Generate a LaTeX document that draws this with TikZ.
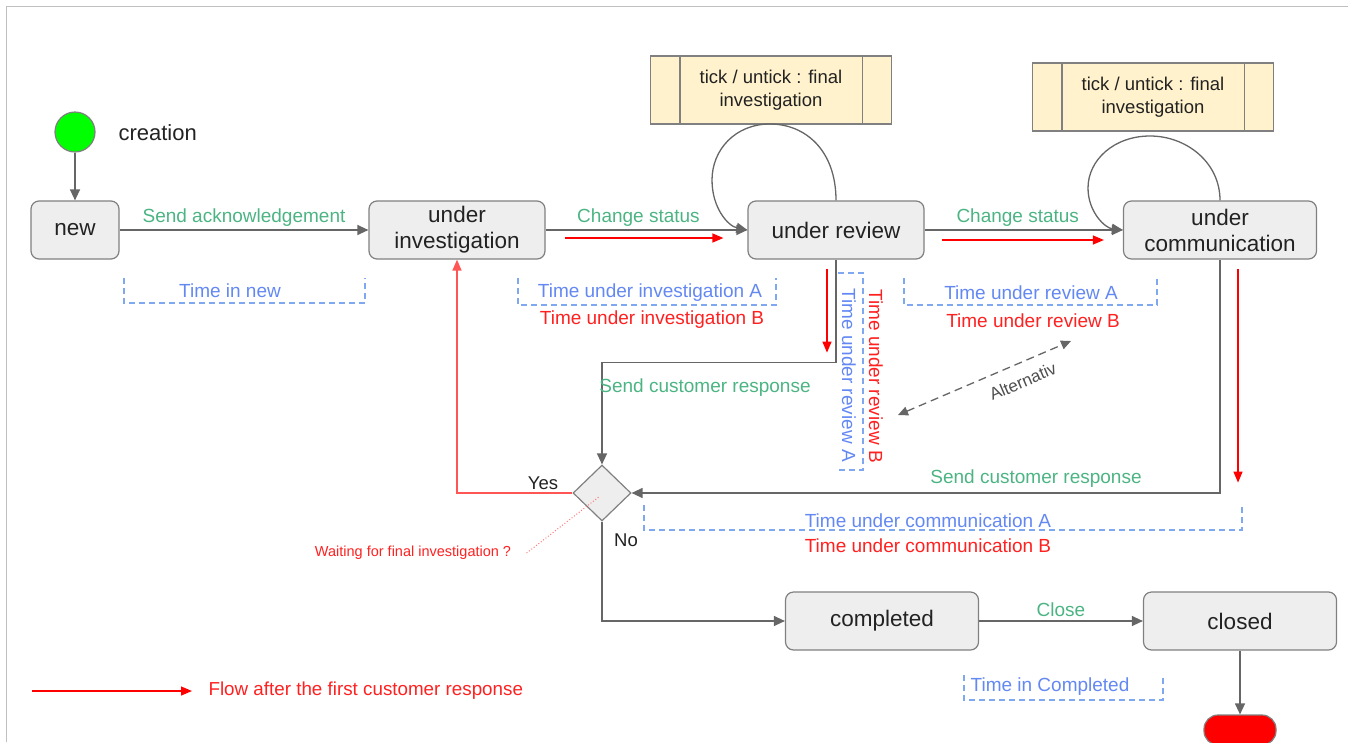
\documentclass[tikz,border=0pt]{standalone}
\usepackage{fontspec}
\setmainfont{Liberation Sans}
\usetikzlibrary{positioning}
\usetikzlibrary{arrows.meta}
\usetikzlibrary{calc, shapes}
\definecolor{boxline}{HTML}{808080}
\definecolor{boxfill}{HTML}{EEEEEE}
\definecolor{tickfill}{HTML}{FFF2CC}
\definecolor{linegray}{HTML}{666666}
\definecolor{framegray}{HTML}{C0C0C0}
\definecolor{textdark}{HTML}{222222}
\definecolor{actgreen}{HTML}{4CB483}
\definecolor{timeblue}{HTML}{6388F2}
\definecolor{dashblue}{HTML}{80A8F0}
\definecolor{timered}{HTML}{FF2020}
\definecolor{yesred}{HTML}{FF5555}
\definecolor{startgreen}{HTML}{00FF00}
\tikzset{%
	% Specifications for style of nodes:
	base/.style = {rectangle, rounded corners=8pt, draw=boxline, fill=boxfill,
		line width=1.2pt, text=textdark, align=center,
		font=\fontsize{22.5}{26}\selectfont},
	statebox/.style = {base, minimum width=176pt, minimum height=58pt, inner sep=2pt},
	tickbox/.style = {rectangle, draw=boxline, fill=tickfill, line width=1.2pt,
		minimum width=241pt, minimum height=68pt, align=center, text=textdark,
		font=\fontsize{18.5}{23}\selectfont},
	decision/.style = {diamond, draw=boxline, fill=boxfill, line width=1.2pt,
		minimum width=58pt, minimum height=56pt, inner sep=0pt},
	% Specifications for style of connectors:
	flow/.style = {draw=linegray, line width=1.3pt, -{Triangle[width=10pt,length=11pt]}},
	redflow/.style = {draw=red, line width=1.3pt, -{Triangle[width=9pt,length=11pt]}},
	yesflow/.style = {draw=yesred, line width=1.5pt, -{Triangle[width=9pt,length=11pt]}},
	altflow/.style = {draw=linegray, line width=1.3pt, dash pattern=on 8pt off 5pt,
		{Triangle[width=9pt,length=10pt]}-{Triangle[width=9pt,length=10pt]}},
	action/.style = {text=actgreen, font=\fontsize{19}{22}\selectfont},
	timeA/.style = {text=timeblue, font=\fontsize{19}{22}\selectfont},
	timeB/.style = {text=timered, font=\fontsize{19}{22}\selectfont},
	timebox/.style = {draw=dashblue, line width=1.2pt, dash pattern=on 6pt off 4pt}
}
\begin{document}
\begin{tikzpicture}[x=1pt, y=-1pt, every node/.style={font=\fontsize{18.5}{22}\selectfont}]
		\useasboundingbox (0,0) rectangle (1348,742);
		\draw[framegray, line width=1pt] (6,742) -- (6,6) -- (1348,6);
		% states
		\node (start) [circle, draw=boxline, fill=startgreen, line width=1.2pt, minimum size=40pt, inner sep=0pt] at (75,132) {};
		\node (creation) [anchor=west, text=textdark, font=\fontsize{22}{24}\selectfont] at (115,133) {creation};
		\node (new) [statebox, minimum width=88pt] at (75,230) {new};
		\node (uinv) [statebox] at (457,230) {under\\investigation};
		\node (urev) [statebox] at (836,230) {under review};
		\node (ucom) [statebox, minimum width=193pt] at (1220,230) {under\\communication};
		\node (dec) [decision] at (602,493) {};
		\node (compl) [statebox, minimum width=193pt] at (882,621) {completed};
		\node (closed) [statebox, minimum width=193pt] at (1240,621) {closed};
		\node (stop) [rectangle, rounded corners=14pt, draw=boxline, fill=red, line width=1.2pt, minimum width=72pt, minimum height=30pt] at (1240,730) {};
		\node (tick1) [tickbox] at (771,90) {tick / untick : final\\investigation};
		\node (tick2) [tickbox] at (1153,97) {tick / untick : final\\investigation};
		\draw[boxline, line width=1.2pt] ([xshift=30]tick1.north west) -- ([xshift=30]tick1.south west);
		\draw[boxline, line width=1.2pt] ([xshift=-30]tick1.north east) -- ([xshift=-30]tick1.south east);
		\draw[boxline, line width=1.2pt] ([xshift=30]tick2.north west) -- ([xshift=30]tick2.south west);
		\draw[boxline, line width=1.2pt] ([xshift=-30]tick2.north east) -- ([xshift=-30]tick2.south east);
		% transitions
		\draw[flow] (start) -- (new);
		\draw[flow] (new) -- node[above, action] {Send acknowledgement} (uinv);
		\draw[flow] (uinv) -- node[above, action, xshift=-8] {Change status} (urev);
		\draw[flow] (urev) -- node[above, action, xshift=-6] {Change status} (ucom);
		\draw[flow] (urev.north) .. controls (836,150) and (805,124) .. (770,124)
			.. controls (735,124) and (712,150) .. (712,180)
			.. controls (712,208) and (728,226) .. (urev.west);
		\draw[flow] (ucom.north) .. controls (1220,162) and (1186,136) .. (1150,136)
			.. controls (1114,136) and (1088,160) .. (1088,188)
			.. controls (1088,212) and (1105,228) .. (ucom.west);
		\draw[flow] (urev.south) -- ++(0,103) -| (dec.north);
		\node (resp1) [action] at (705,388) {Send customer response};
		\draw[flow] (ucom.south) |- (dec.east);
		\node (resp2) [action] at (1036,479) {Send customer response};
		\draw[yesflow] (dec.west) -| (uinv.south);
		\node (yes) [text=textdark] at (543,483) {Yes};
		\node (no) [text=textdark] at (626,540) {No};
		\draw[flow] (dec.south) |- (compl.west);
		\draw[flow] (compl) -- node[above, action] {Close} (closed);
		\draw[flow] (closed) -- (stop);
		% flow after the first customer response
		\draw[redflow] ([shift={(19,8)}]uinv.east) -- ([shift={(-24,8)}]urev.west);
		\draw[redflow] ([shift={(17,10)}]urev.east) -- ([shift={(-19,10)}]ucom.west);
		\draw[redflow] ([shift={(-9,9)}]urev.south) -- ++(0,84);
		\draw[redflow] ([shift={(18,9)}]ucom.south) -- ++(0,214);
		% times
		\node (tnew) [timeA] at (230,291) {Time in new};
		\draw[timebox] (124,278) |- (365,303) -- (365,278);
		\node (tinvA) [timeA] at (650,293) {Time under investigation A};
		\draw[timebox] (518,278) |- (776,305) -- (776,278);
		\node (tinvB) [timeB] at (652,320) {Time under investigation B};
		\node (trevA) [timeA] at (1031,293) {Time under review A};
		\draw[timebox] (904,278) |- (1157,305) -- (1157,278);
		\node (trevB) [timeB] at (1033,321) {Time under review B};
		\node (trevAv) [timeA, rotate=-90] at (849,375) {Time under review A};
		\draw[timebox] (838,273) -- (863,273) -- (863,470) -- (838,470);
		\node (trevBv) [timeB, rotate=-90] at (876,376) {Time under review B};
		\node (tcomA) [timeA] at (928,521) {Time under communication A};
		\draw[timebox] (644,505) |- (1242,530) -- (1242,505);
		\node (tcomB) [timeB] at (928,546) {Time under communication B};
		\node (tcompl) [timeA] at (1050,687) {Time in Completed};
		\draw[timebox] (964,675) |- (1163,700) -- (1163,675);
		% alternative
		\coordinate (altA) at (898,415);
		\coordinate (altB) at (1071,341);
		\draw[altflow] (altA) -- node[sloped, below=8pt, pos=0.68, text=textdark!80, font=\fontsize{17}{18}\selectfont] {Alternativ} (altB);
		% decision note
		\node (wait) [text=timered, font=\fontsize{14.5}{16}\selectfont] at (413,553) {Waiting for final investigation ?};
		\draw[timered!60, dotted, line width=1pt] ([xshift=12]wait.east) -- ([shift={(-2,3)}]dec.center);
		% legend
		\coordinate (legA) at (32,691);
		\node (legend) [anchor=west, text=timered, font=\fontsize{18.8}{22}\selectfont] at (205,691) {Flow after the first customer response};
		\draw[redflow] (legA) -- ([xshift=-13]legend.west);
\end{tikzpicture}
\end{document}
